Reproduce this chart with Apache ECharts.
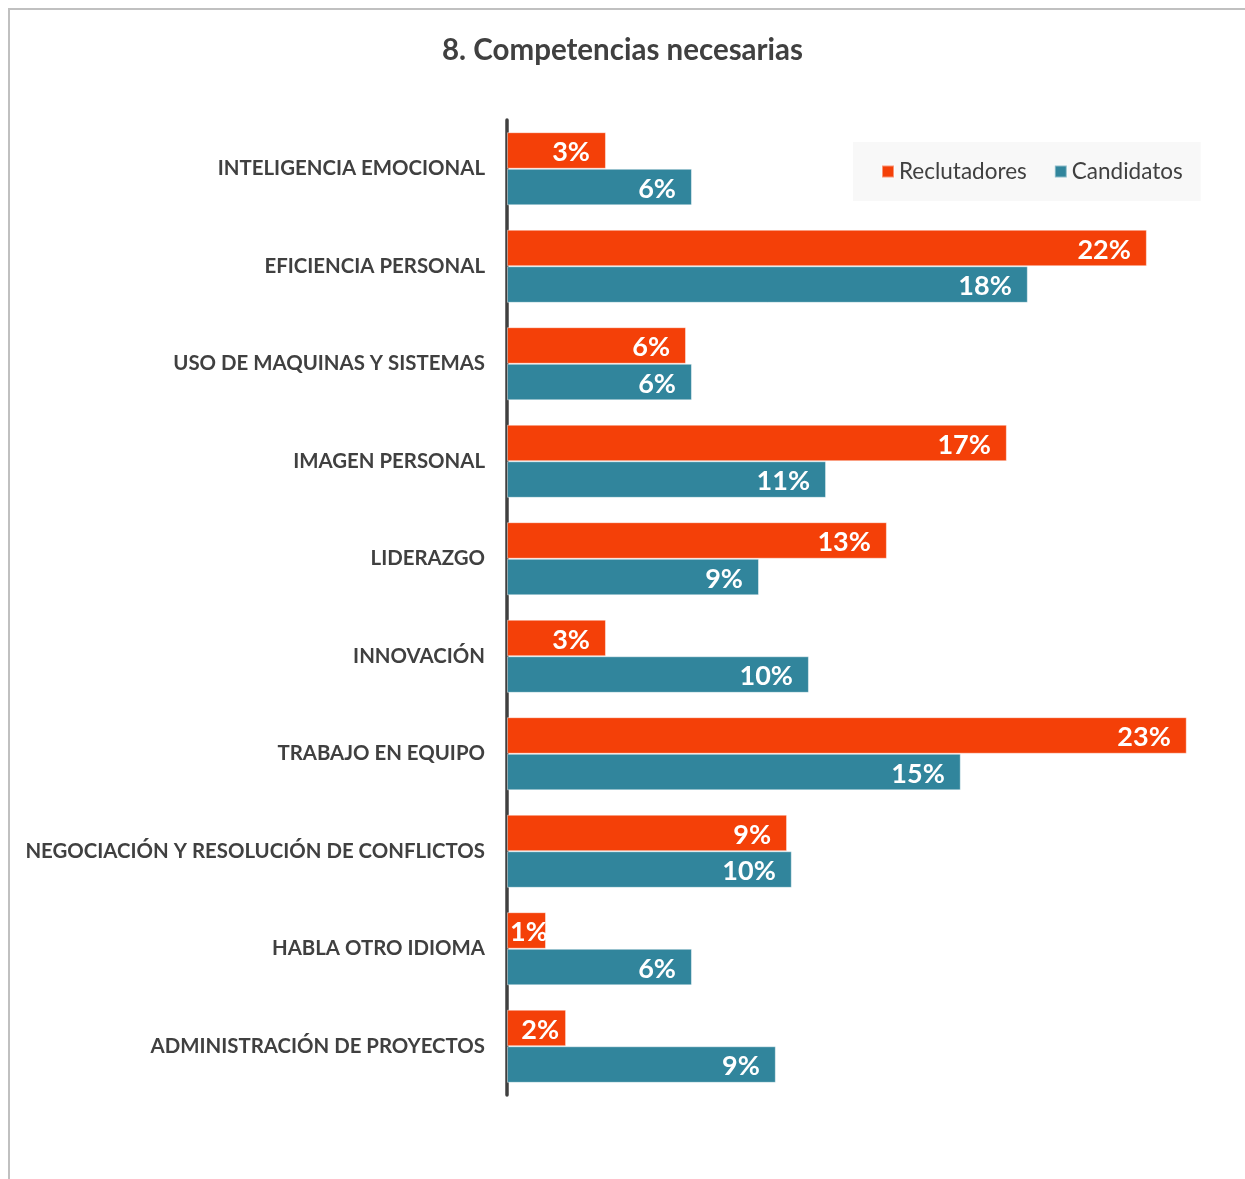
<!DOCTYPE html>
<html>
<head>
<meta charset="utf-8">
<script src="https://cdn.jsdelivr.net/npm/echarts@6/dist/echarts.min.js"></script>
<style>
  html, body { margin: 0; padding: 0; background: #fff; }
  #frame { position: absolute; left: 8px; top: 8px; width: 1245px; height: 1200px; border-top: 2px solid #C0C0C0; border-left: 2px solid #C0C0C0; box-sizing: border-box; }
  #chart { position: absolute; left: 0; top: 0; width: 1245px; height: 1179px; }
</style>
</head>
<body>
<div id="frame"></div>
<div id="chart"></div>
<script>
const categories = [
  'INTELIGENCIA EMOCIONAL',
  'EFICIENCIA PERSONAL',
  'USO DE MAQUINAS Y SISTEMAS',
  'IMAGEN PERSONAL',
  'LIDERAZGO',
  'INNOVACIÓN',
  'TRABAJO EN EQUIPO',
  'NEGOCIACIÓN Y RESOLUCIÓN DE CONFLICTOS',
  'HABLA OTRO IDIOMA',
  'ADMINISTRACIÓN DE PROYECTOS'
];
const seriesNames = ['Reclutadores', 'Candidatos'];
const reclutadores = [3.35, 21.66, 6.06, 16.92, 12.86, 3.35, 23.01, 9.48, 1.32, 2.0];
const candidatos   = [6.26, 17.63, 6.26, 10.80, 8.53, 10.22, 15.36, 9.64, 6.26, 9.10];

const FONT = 'Lato';
const labelBase = { show: true, color: '#fff', fontFamily: FONT, fontWeight: 'bold', fontSize: 27,
  offset: [0, 2],
  formatter: p => Math.round(p.value) + '%' };

function buildData(arr) {
  return arr.map(v => {
    if (v < 1.5) return { value: v, label: { position: 'insideLeft', distance: 3 } };
    if (v < 2.5) return { value: v, label: { position: 'insideRight', distance: 7 } };
    return { value: v };
  });
}

const chart = echarts.init(document.getElementById('chart'), null, { renderer: 'canvas' });
chart.setOption({
  animation: false,
  title: {
    text: '8. Competencias necesarias',
    left: 'center', top: 30,
    textStyle: { fontFamily: FONT, fontWeight: 'bold', fontSize: 29.5, color: '#404040' }
  },
  legend: {
    data: seriesNames,
    left: 853, top: 142,
    backgroundColor: '#F8F8F8',
    padding: [18, 18, 18, 28],
    itemWidth: 12, itemHeight: 12, itemGap: 27,
    icon: 'rect',
    textStyle: { fontFamily: FONT, fontSize: 22.5, color: '#404040' }
  },
  grid: { left: 507, right: 29, top: 120, bottom: 84, containLabel: false },
  xAxis: {
    type: 'value', min: 0, max: 24,
    show: false
  },
  yAxis: {
    type: 'category', data: categories, inverse: true,
    axisLine: { show: true, lineStyle: { color: '#404040', width: 3.5 } },
    axisTick: { show: false },
    axisLabel: { fontFamily: FONT, fontWeight: 'bold', fontSize: 20.4, color: '#404040', margin: 22 }
  },
  series: [
    { name: seriesNames[0], type: 'bar', data: buildData(reclutadores), barGap: '0%', barCategoryGap: '25%',
      itemStyle: { color: '#F44008', borderColor: 'rgba(255,255,255,0.45)', borderWidth: 1 },
      label: Object.assign({ position: 'insideRight', distance: 16 }, labelBase), z: 1 },
    { name: seriesNames[1], type: 'bar', data: buildData(candidatos), barGap: '0%', barCategoryGap: '25%',
      itemStyle: { color: '#31859C', borderColor: 'rgba(255,255,255,0.45)', borderWidth: 1 },
      label: Object.assign({ position: 'insideRight', distance: 16 }, labelBase), z: 1 }
  ]
});
</script>
</body>
</html>
